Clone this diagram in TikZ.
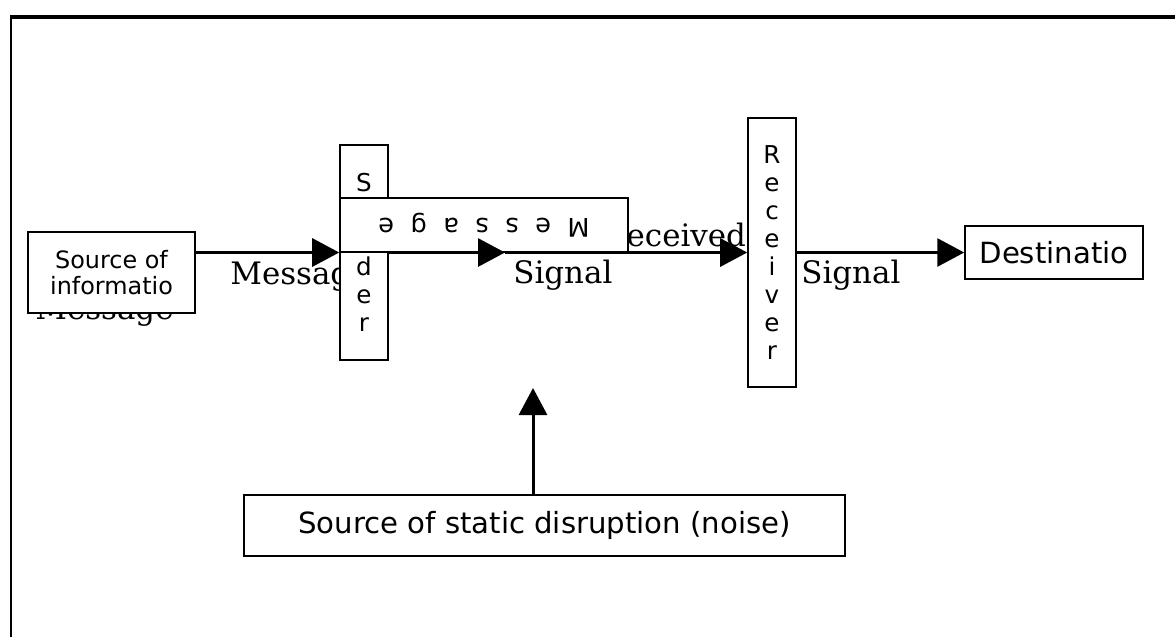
\documentclass[tikz,border=0pt]{standalone}
\usepackage{fontspec}
\setmainfont{DejaVu Serif}
\setsansfont{DejaVu Sans}
\usetikzlibrary{arrows.meta, positioning}

\begin{document}
\begin{tikzpicture}[
  x=0.02cm, y=-0.02cm,
  % Base style for boxes
  basebox/.style={draw, fill=white, line width=0.9pt, inner sep=0pt, font=\sffamily},
  % Styles inheriting from basebox
  wordbox/.style={basebox, font=\sffamily\fontsize{16.6}{19}\selectfont},
  stackbox/.style={basebox, minimum width=0.96cm, align=center, font=\sffamily\fontsize{14}{16}\selectfont},
  siglabel/.style={font=\fontsize{17.6}{20}\selectfont, inner sep=0pt, anchor=base west},
  flow/.style={line width=1.7pt, -{Triangle[length=0.54cm, width=0.56cm]}},
]
  \useasboundingbox (0,0) rectangle (1175,637);

  % Page frame
  \draw[line width=1.2pt] (11,637) -- (11,17);
  \draw[line width=1.8pt] (10,17) -- (1175,17);

  % Signal labels (boxes hide parts of them)
  \node[siglabel] (msglow) at (35,319) {Message};
  \node[siglabel] (msg) at (230,284) {Message};
  \node[siglabel] (sig) at (513,283) {Signal};
  \node[siglabel] (rcvd) at (603,246) {Received};
  \node[siglabel] (sigout) at (801,283) {Signal};

  % Boxes
  \node[basebox, minimum width=3.34cm, minimum height=1.62cm, align=center,
        font=\sffamily\fontsize{13.6}{15}\selectfont] (source) at (111.5,272.5) {Source of\\informatio};
  \node[stackbox, minimum height=4.3cm] (sender) at (364,252.5) {S\\e\\n\\d\\e\\r};
  \node[basebox, rotate=180, minimum width=5.76cm, minimum height=1.08cm,
        font=\sffamily\fontsize{14.6}{16}\selectfont] (message) at (484,225)
        {M\hspace{0.33cm}e\hspace{0.33cm}s\hspace{0.33cm}s\hspace{0.33cm}a\hspace{0.33cm}g\hspace{0.33cm}e};
  \node[stackbox, minimum height=5.38cm] (receiver) at (772,252.5) {R\\e\\c\\e\\i\\v\\e\\r};
  \node[wordbox, minimum width=3.56cm, minimum height=1.06cm] (dest) at (1054,252.5) {Destinatio};
  \node[wordbox, minimum width=12.02cm, minimum height=1.22cm] (noise) at (544.5,525.5) {Source of static disruption (noise)};

  % Connectors
  \coordinate (midtip) at (505,252.5);
  \coordinate (noisetip) at (533,388);
  \draw[flow] (source.east |- sender.west) -- (sender.west);
  \draw[flow] (sender.east) -- (midtip);
  \draw[flow] (midtip) -- (receiver.west);
  \draw[flow] (receiver.east) -- (dest.west);
  \draw[flow] (noise.north -| noisetip) -- (noisetip);

\end{tikzpicture}
\end{document}
